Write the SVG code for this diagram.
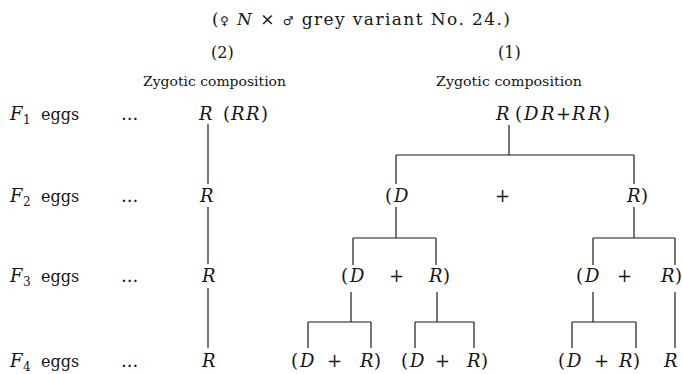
<svg xmlns="http://www.w3.org/2000/svg" width="682" height="374" viewBox="0 0 682 374">
<style>
text{font-family:"DejaVu Serif","Liberation Serif",serif;fill:#151515}
.m{font-size:18px}
.i{font-style:italic}
.e{font-size:16px}
.s{font-size:12px}
.h{font-size:17px}
.z{font-size:13px}
.sym{font-size:12px;font-family:"DejaVu Sans",sans-serif}
.c line{stroke:#1a1a1a;stroke-width:1.2;fill:none}
</style>
<rect width="682" height="374" fill="#fff"/>
<g id="title">
<text class="h" x="212" y="25" textLength="298" lengthAdjust="spacing">(<tspan class="sym">♀</tspan> <tspan class="i">N</tspan> × <tspan class="sym">♂</tspan> grey variant No. 24.)</text>
</g>
<g id="col2-head">
<text class="e" x="211" y="58">(2)</text>
<text class="z" x="143" y="86" textLength="143" lengthAdjust="spacingAndGlyphs">Zygotic composition</text>
</g>
<g id="col1-head">
<text class="e" x="498" y="58">(1)</text>
<text class="z" x="436" y="86" textLength="146" lengthAdjust="spacingAndGlyphs">Zygotic composition</text>
</g>
<g id="labels">
<text class="m" y="120"><tspan x="10" class="i">F</tspan><tspan x="23" dy="4" class="s">1</tspan><tspan x="41" dy="-4" class="e">eggs</tspan><tspan x="121">...</tspan></text>
<text class="m" y="202"><tspan x="10" class="i">F</tspan><tspan x="23" dy="4" class="s">2</tspan><tspan x="41" dy="-4" class="e">eggs</tspan><tspan x="121">...</tspan></text>
<text class="m" y="282"><tspan x="10" class="i">F</tspan><tspan x="23" dy="4" class="s">3</tspan><tspan x="41" dy="-4" class="e">eggs</tspan><tspan x="121">...</tspan></text>
<text class="m" y="367"><tspan x="10" class="i">F</tspan><tspan x="23" dy="4" class="s">4</tspan><tspan x="41" dy="-4" class="e">eggs</tspan><tspan x="121">...</tspan></text>
</g>
<g id="left-F1"><text class="m" y="120"><tspan x="199" class="i">R</tspan><tspan x="223">(</tspan><tspan x="231" class="i">R</tspan><tspan x="246" class="i">R</tspan><tspan x="261">)</tspan></text></g>
<g id="left-F2"><text class="m i" x="200" y="202">R</text></g>
<g id="left-F3"><text class="m i" x="202" y="282">R</text></g>
<g id="left-F4"><text class="m i" x="202" y="367">R</text></g>
<g id="r-F1"><text class="m" y="120"><tspan x="496" class="i">R</tspan><tspan x="515">(</tspan><tspan x="524" class="i">D</tspan><tspan x="541" class="i">R</tspan><tspan x="556">+</tspan><tspan x="572" class="i">R</tspan><tspan x="588" class="i">R</tspan><tspan x="603">)</tspan></text></g>
<g id="r-F2"><text class="m" y="202"><tspan x="385">(</tspan><tspan x="394" class="i">D</tspan><tspan x="495">+</tspan><tspan x="627" class="i">R</tspan><tspan x="641">)</tspan></text></g>
<g id="r-F3a"><text class="m" y="282"><tspan x="341">(</tspan><tspan x="350" class="i">D</tspan><tspan x="389">+</tspan><tspan x="429" class="i">R</tspan><tspan x="443">)</tspan></text></g>
<g id="r-F3b"><text class="m" y="282"><tspan x="576">(</tspan><tspan x="585" class="i">D</tspan><tspan x="617">+</tspan><tspan x="661" class="i">R</tspan><tspan x="675">)</tspan></text></g>
<g id="r-F4a"><text class="m" y="367"><tspan x="291">(</tspan><tspan x="300" class="i">D</tspan><tspan x="327">+</tspan><tspan x="360" class="i">R</tspan><tspan x="374">)</tspan></text></g>
<g id="r-F4b"><text class="m" y="367"><tspan x="401">(</tspan><tspan x="410" class="i">D</tspan><tspan x="435">+</tspan><tspan x="467" class="i">R</tspan><tspan x="481">)</tspan></text></g>
<g id="r-F4c"><text class="m" y="367"><tspan x="558">(</tspan><tspan x="567" class="i">D</tspan><tspan x="594">+</tspan><tspan x="619" class="i">R</tspan><tspan x="633">)</tspan></text></g>
<g id="r-F4d"><text class="m i" x="664" y="367">R</text></g>
<g id="connectors" class="c">
<line x1="208" y1="124" x2="208" y2="184"/>
<line x1="208" y1="207" x2="208" y2="264"/>
<line x1="208" y1="288" x2="208" y2="348"/>
<line x1="509" y1="125" x2="509" y2="155"/>
<line x1="396" y1="155" x2="634" y2="155"/>
<line x1="396" y1="155" x2="396" y2="184"/>
<line x1="634" y1="155" x2="634" y2="184"/>
<line x1="396" y1="207" x2="396" y2="238"/>
<line x1="353" y1="238" x2="436" y2="238"/>
<line x1="353" y1="238" x2="353" y2="265"/>
<line x1="436" y1="238" x2="436" y2="265"/>
<line x1="634" y1="207" x2="634" y2="238"/>
<line x1="593" y1="238" x2="675" y2="238"/>
<line x1="593" y1="238" x2="593" y2="265"/>
<line x1="675" y1="238" x2="675" y2="265"/>
<line x1="351" y1="292" x2="351" y2="322"/>
<line x1="308" y1="322" x2="371" y2="322"/>
<line x1="308" y1="322" x2="308" y2="348"/>
<line x1="371" y1="322" x2="371" y2="348"/>
<line x1="437" y1="292" x2="437" y2="322"/>
<line x1="415" y1="322" x2="474" y2="322"/>
<line x1="415" y1="322" x2="415" y2="348"/>
<line x1="474" y1="322" x2="474" y2="348"/>
<line x1="593" y1="292" x2="593" y2="322"/>
<line x1="572" y1="322" x2="636" y2="322"/>
<line x1="572" y1="322" x2="572" y2="348"/>
<line x1="636" y1="322" x2="636" y2="348"/>
<line x1="675" y1="292" x2="675" y2="348"/>
</g>
</svg>
